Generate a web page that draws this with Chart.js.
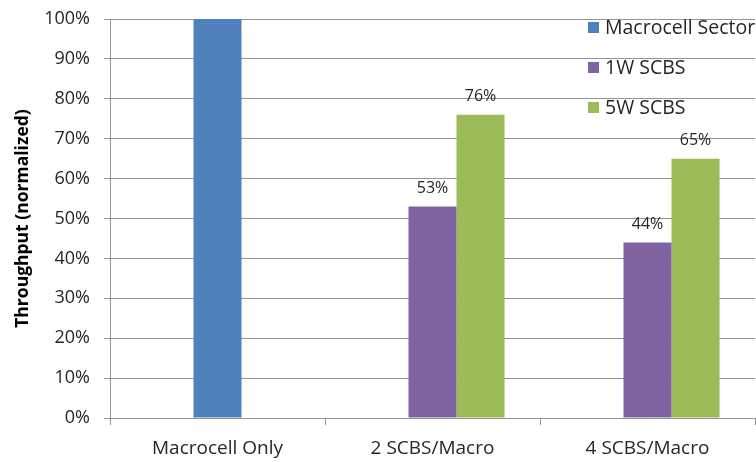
<!DOCTYPE html>
<html>
<head>
<meta charset="utf-8">
<script src="https://cdn.jsdelivr.net/npm/chart.js@4/dist/chart.umd.min.js"></script>
<style>
  html, body { margin: 0; padding: 0; background: #fff; }
  #wrap { position: relative; width: 756px; height: 462px; }
</style>
</head>
<body>
<div id="wrap"><canvas id="c" width="756" height="462"></canvas></div>
<script>
// Throughput per deployment scenario, normalized to the macrocell-only case
const categories = ['Macrocell Only', '2 SCBS/Macro', '4 SCBS/Macro'];
const macrocellSector = [100, null, null];
const scbs1W = [null, 53, 44];
const scbs5W = [null, 76, 65];
const yTicks = [0, 10, 20, 30, 40, 50, 60, 70, 80, 90, 100];

const FONT = '"Open Sans", Lato, sans-serif';
const GRID = '#959595';
const TEXT = '#262626';

// Legend drawn over the plot area, top right
const overlayLegend = {
  id: 'overlayLegend',
  afterDraw(chart) {
    const ctx = chart.ctx;
    const items = chart.data.datasets.filter(d => d.showInLegend);
    ctx.save();
    ctx.font = '19.5px ' + FONT;
    ctx.textBaseline = 'middle';
    ctx.textAlign = 'left';
    items.forEach((d, i) => {
      const y = 28 + i * 40;
      ctx.fillStyle = d.backgroundColor;
      ctx.fillRect(588, y - 6, 11, 11);
      ctx.fillStyle = TEXT;
      ctx.fillText(d.label, 605, y);
    });
    ctx.restore();
  }
};

// Percentage labels above the small-cell bars
const valueLabels = {
  id: 'valueLabels',
  afterDatasetsDraw(chart) {
    const ctx = chart.ctx;
    ctx.save();
    ctx.font = '16px ' + FONT;
    ctx.fillStyle = TEXT;
    ctx.textAlign = 'center';
    ctx.textBaseline = 'middle';
    chart.data.datasets.forEach((d, di) => {
      if (!d.showValues) return;
      const meta = chart.getDatasetMeta(di);
      meta.data.forEach((bar, i) => {
        const v = d.data[i];
        if (v == null) return;
        ctx.fillText(v + '%', bar.x, bar.y - 18);
      });
    });
    ctx.restore();
  }
};

new Chart(document.getElementById('c'), {
  type: 'bar',
  data: {
    labels: categories,
    datasets: [
      // empty left slot of each group
      { label: '', data: [null, null, null], stack: 'left', backgroundColor: 'rgba(0,0,0,0)', showInLegend: false },
      { label: 'Macrocell Sector', data: macrocellSector, stack: 'mid', backgroundColor: '#4F81BD', showInLegend: true },
      { label: '1W SCBS', data: scbs1W, stack: 'mid', backgroundColor: '#8064A2', showInLegend: true, showValues: true },
      { label: '5W SCBS', data: scbs5W, stack: 'right', backgroundColor: '#9BBB59', showInLegend: true, showValues: true }
    ]
  },
  options: {
    responsive: false,
    animation: false,
    events: [],
    categoryPercentage: 0.67,
    barPercentage: 1.0,
    layout: { padding: { top: 19, right: 1, left: 0, bottom: 0 } },
    plugins: {
      legend: { display: false },
      tooltip: { enabled: false }
    },
    scales: {
      x: {
        stacked: true,
        grid: { display: true, drawOnChartArea: false, offset: true, color: GRID, tickLength: 7 },
        border: { color: GRID },
        ticks: { color: TEXT, font: { family: FONT, size: 19 }, padding: 12 },
        afterFit(s) { s.height = 44; s.paddingLeft = 0; s.paddingRight = 0; }
      },
      y: {
        stacked: true,
        min: 0,
        max: 100,
        afterBuildTicks(s) { s.ticks = yTicks.map(v => ({ value: v })); },
        grid: { color: GRID, tickLength: 6 },
        border: { color: GRID },
        ticks: {
          color: TEXT,
          font: { family: FONT, size: 18 },
          padding: 14,
          callback: v => v + '%'
        },
        title: {
          display: true,
          text: 'Throughput (normalized)',
          color: '#000',
          font: { family: FONT, size: 17.5, weight: 'bold' },
          padding: { top: 13, bottom: 0 }
        },
        afterFit(s) { s.width = 110; s.paddingTop = 0; s.paddingBottom = 0; }
      }
    }
  },
  plugins: [valueLabels, overlayLegend]
});
</script>
</body>
</html>
